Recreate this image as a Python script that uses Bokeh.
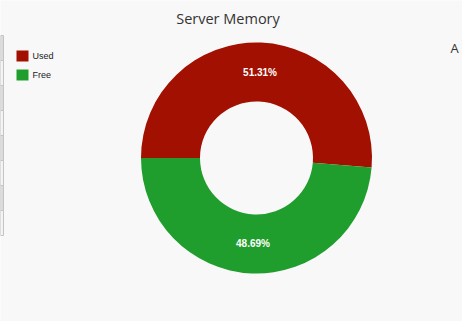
import math
from bokeh.plotting import figure
from bokeh.models import Range1d, ColumnDataSource
from bokeh.core.properties import value
from bokeh.embed import file_html
from bokeh.resources import INLINE

# ---- data ----
categories = ["Used", "Free"]
percents = [51.31, 48.69]
colors = ["#a11000", "#209e2d"]
title_text = "Server Memory"

W, H = 462, 321
p = figure(width=W, height=H, output_backend="svg", toolbar_location=None,
           x_range=Range1d(0, W), y_range=Range1d(0, H), min_border=0)
p.axis.visible = False
p.grid.visible = False
p.outline_line_color = None
p.background_fill_color = "#f8f8f8"
p.border_fill_color = "#f8f8f8"

def Y(py):
    return H - py

# decorative table strip at left edge
row_tops = [35, 60, 85, 110, 135, 160, 185, 210]
fills = ["#dcdcdc" if i % 2 == 0 else "#f3f3f3" for i in range(len(row_tops))]
p.quad(left=[0] * len(row_tops), right=[3] * len(row_tops),
       top=[Y(t) for t in row_tops], bottom=[Y(t + 25) for t in row_tops],
       fill_color=fills, line_color="#c4c4c4", line_width=1)

# donut
cx, cy = 256, Y(157.5)
r_out, r_in = 115.5, 56.5
total = sum(percents)
starts, ends, mids = [], [], []
a = math.pi
for v in percents:
    sweep = 2 * math.pi * v / total
    starts.append(a)
    ends.append(a - sweep)
    mids.append(a - sweep / 2)
    a -= sweep

src = ColumnDataSource(dict(start=starts, end=ends, color=colors,
                            x=[cx] * 2, y=[cy] * 2))
p.annular_wedge(x="x", y="y", inner_radius=r_in, outer_radius=r_out,
                start_angle="start", end_angle="end", direction="clock",
                fill_color="color", line_color=None, source=src)

r_lab = 86
lab_x = [cx + r_lab * math.cos(m) for m in mids]
lab_y = [cy + r_lab * math.sin(m) for m in mids]
labels = ["%.2f%%" % v for v in percents]
p.text(x=lab_x, y=lab_y, text=labels, text_color="white",
       text_font=value("Liberation Sans"), text_font_style="bold",
       text_font_size="10px", text_align="center", text_baseline="middle")

# title
p.text(x=[227.5], y=[Y(18)], text=[title_text], text_color="#333333",
       text_font=value("Open Sans"), text_font_size="14.5px",
       text_align="center", text_baseline="middle")

# legend
leg_y = [Y(55.5), Y(74.5)]
p.rect(x=[22, 22], y=leg_y, width=12, height=11, fill_color=colors, line_color=None)
p.text(x=[32, 32], y=leg_y, text=categories, text_color="#222222",
       text_font=value("Liberation Sans"), text_font_size="9px",
       text_align="left", text_baseline="middle")

# text at right edge (partly hidden in the original)
p.text(x=[450], y=[Y(47)], text=["A"], text_color="#333333",
       text_font=value("Open Sans"), text_font_size="13px",
       text_align="left", text_baseline="middle")

open("out.html", "w").write(file_html(p, INLINE))
